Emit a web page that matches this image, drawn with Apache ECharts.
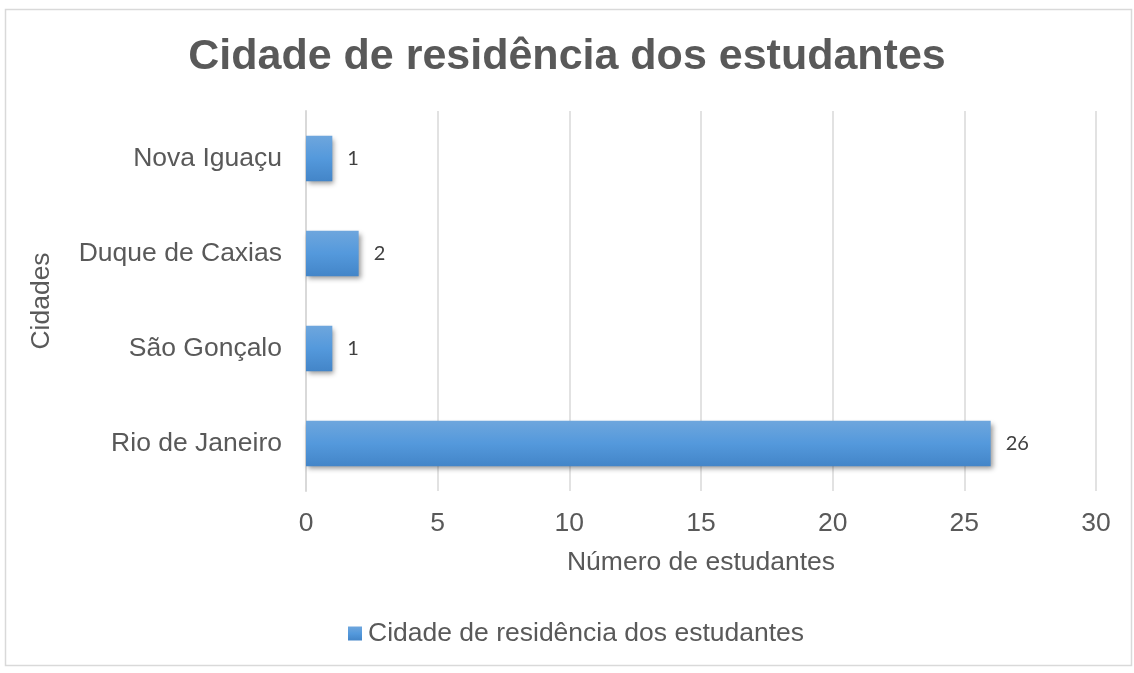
<!DOCTYPE html>
<html>
<head>
<meta charset="utf-8">
<script src="https://cdn.jsdelivr.net/npm/echarts@6/dist/echarts.min.js"></script>
<style>
  html, body { margin: 0; padding: 0; background: #fff; }
  #chart { width: 1134px; height: 673px; }
</style>
</head>
<body>
<div id="chart"></div>
<script>
const cidades = ['Rio de Janeiro', 'São Gonçalo', 'Duque de Caxias', 'Nova Iguaçu']
const estudantes = [26, 1, 2, 1]
const xTicks = [0, 5, 10, 15, 20, 25, 30]

const seriesName = 'Cidade de residência dos estudantes'
const textColor = '#595959'

const chart = echarts.init(document.getElementById('chart'))
chart.setOption({
  backgroundColor: '#fff',
  title: {
    text: 'Cidade de residência dos estudantes',
    left: 'center',
    top: 31,
    textStyle: {
      fontFamily: 'Liberation Sans',
      fontSize: 43,
      fontWeight: 'bold',
      color: textColor
    }
  },
  graphic: [{
    type: 'rect',
    shape: { x: 5.5, y: 9.5, width: 1126, height: 656 },
    style: { fill: 'none', stroke: '#d9d9d9', lineWidth: 1.5 },
    silent: true
  }],
  legend: {
    bottom: 21,
    left: 343,
    icon: 'rect',
    itemWidth: 14,
    itemHeight: 14,
    itemGap: 6,
    textStyle: {
      fontFamily: 'Liberation Sans',
      fontSize: 26.5,
      color: textColor,
      padding: [0, 0, 0, 1]
    },
    data: [seriesName]
  },
  grid: {
    left: 306,
    right: 38,
    top: 111,
    bottom: 182
  },
  xAxis: {
    type: 'value',
    min: xTicks[0],
    max: xTicks[xTicks.length - 1],
    interval: 5,
    name: 'Número de estudantes',
    nameLocation: 'middle',
    nameGap: 58,
    nameTextStyle: {
      fontFamily: 'Liberation Sans',
      fontSize: 26.5,
      color: textColor
    },
    axisLine: { show: false },
    axisTick: { show: false },
    axisLabel: {
      margin: 19,
      fontFamily: 'Liberation Sans',
      fontSize: 26.5,
      color: textColor
    },
    splitLine: {
      lineStyle: { color: '#d9d9d9', width: 1.5 }
    }
  },
  yAxis: {
    type: 'category',
    data: cidades,
    name: 'Cidades',
    nameLocation: 'middle',
    nameGap: 251,
    nameRotate: 90,
    nameTextStyle: {
      fontFamily: 'Liberation Sans',
      fontSize: 26.5,
      color: textColor
    },
    axisLine: {
      show: true,
      lineStyle: { color: '#d9d9d9', width: 2 }
    },
    axisTick: { show: false },
    axisLabel: {
      margin: 24,
      fontFamily: 'Liberation Sans',
      fontSize: 26.5,
      color: textColor
    }
  },
  series: [{
    name: seriesName,
    type: 'bar',
    data: estudantes,
    barWidth: '48%',
    animation: false,
    itemStyle: {
      color: new echarts.graphic.LinearGradient(0, 0, 0, 1, [
        { offset: 0, color: '#6ea6dd' },
        { offset: 0.5, color: '#5499dc' },
        { offset: 1, color: '#4385c8' }
      ]),
      shadowColor: 'rgba(0,0,0,0.4)',
      shadowBlur: 5,
      shadowOffsetX: 2,
      shadowOffsetY: 3
    },
    label: {
      show: true,
      position: 'right',
      distance: 15,
      fontFamily: 'Lato',
      fontSize: 20,
      color: '#404040'
    }
  }]
})
</script>
</body>
</html>
